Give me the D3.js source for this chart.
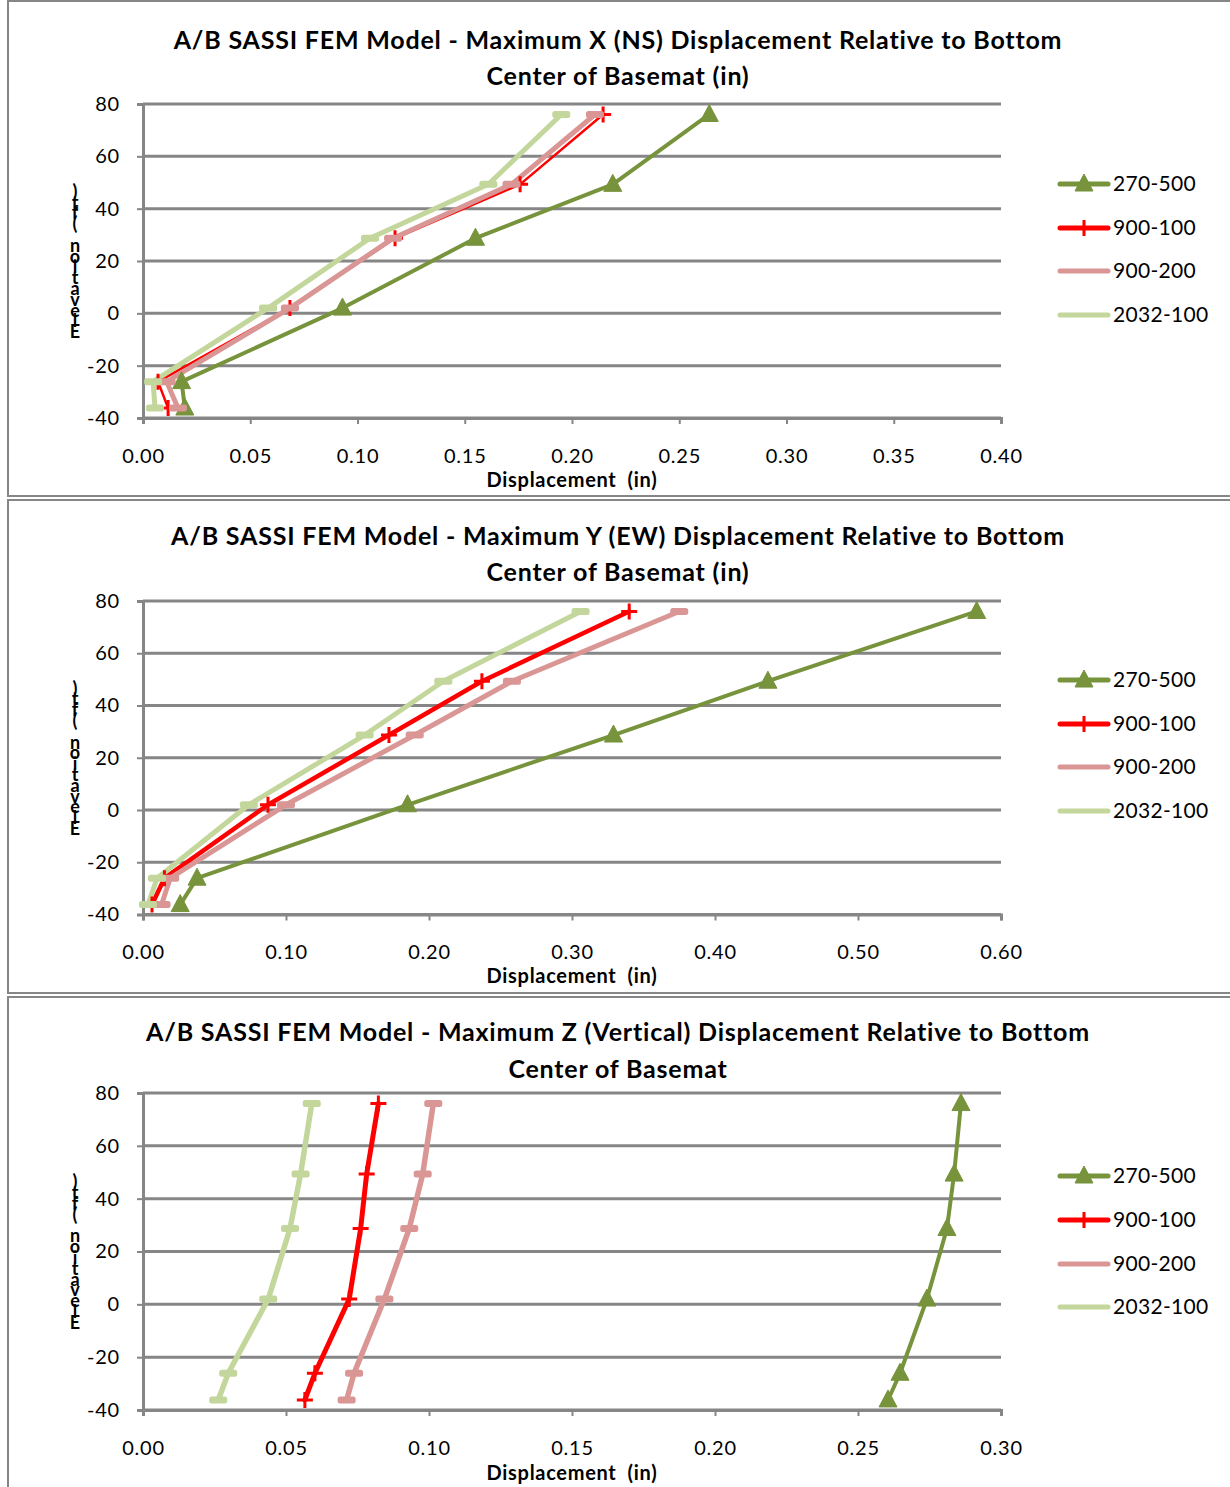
<!DOCTYPE html>
<html>
<head>
<meta charset="utf-8">
<script src="https://cdn.jsdelivr.net/npm/d3@7"></script>
<style>
  html, body { margin: 0; padding: 0; background: #fff; }
  svg { display: block; }
  text { font-family: Lato, "Open Sans", sans-serif; fill: #000; }
</style>
</head>
<body>
<svg id="chart" width="1230" height="1487"></svg>
<script>
// Elevations of the output nodes (ft), shared by all series
const elevations = [-36.2, -26.1, 2.0, 28.7, 49.3, 76.0];

const seriesNames = ["270-500", "900-100", "900-200", "2032-100"];
const seriesColors = ["#77933C", "#FF0000", "#D99694", "#C3D69B"];
const seriesMarkers = ["triangle", "plus", "dash", "dash"];

// X (NS) displacement, in
const nsDisp270 = [0.0195, 0.018, 0.093, 0.155, 0.219, 0.264];
const nsDisp900a = [0.0117, 0.0070, 0.0685, 0.1175, 0.1758, 0.2145];
const nsDisp900b = [0.0163, 0.0110, 0.0685, 0.1166, 0.1718, 0.2107];
const nsDisp2032 = [0.0056, 0.0047, 0.0583, 0.1058, 0.1610, 0.1950];

// Y (EW) displacement, in
const ewDisp270 = [0.026, 0.0378, 0.185, 0.329, 0.437, 0.583];
const ewDisp900a = [0.0063, 0.0150, 0.0874, 0.172, 0.237, 0.340];
const ewDisp900b = [0.0130, 0.0190, 0.100, 0.190, 0.258, 0.375];
const ewDisp2032 = [0.0035, 0.0098, 0.074, 0.155, 0.210, 0.306];

// Z (vertical) displacement, in
const vtDisp270 = [0.2605, 0.2647, 0.2741, 0.2811, 0.2836, 0.2860];
const vtDisp900a = [0.0566, 0.0601, 0.0721, 0.0761, 0.0782, 0.0823];
const vtDisp900b = [0.0712, 0.0738, 0.0844, 0.0931, 0.0978, 0.1015];
const vtDisp2032 = [0.0263, 0.0298, 0.0438, 0.0514, 0.0551, 0.0590];

const yTicks = [-40, -20, 0, 20, 40, 60, 80];
const xTicksNS = [0, 0.05, 0.10, 0.15, 0.20, 0.25, 0.30, 0.35, 0.40];
const xTicksEW = [0, 0.10, 0.20, 0.30, 0.40, 0.50, 0.60];
const xTicksVT = [0, 0.05, 0.10, 0.15, 0.20, 0.25, 0.30];

const titlesNS = ["A/B SASSI FEM Model - Maximum X (NS) Displacement Relative to Bottom", "Center of Basemat (in)"];
const titlesEW = ["A/B SASSI FEM Model - Maximum Y (EW) Displacement Relative to Bottom", "Center of Basemat (in)"];
const titlesVT = ["A/B SASSI FEM Model - Maximum Z (Vertical) Displacement Relative to Bottom", "Center of Basemat"];

const xAxisTitle = "Displacement  (in)";
const yAxisTitle = "Elevation (ft)";

const svg = d3.select("#chart");
const gridColor = "#868686";

const panels = [
  { top: 1, bottom: 496, titles: titlesNS, ticks: xTicksNS,
    data: [nsDisp270, nsDisp900a, nsDisp900b, nsDisp2032],
    yTop: 104, yBottom: 418, titleY: [49, 85], tickY: 463, xTitleY: 487,
    legendY: [184, 228, 271, 315], widths: [4, 2.5, 5, 5] },
  { top: 500, bottom: 993, titles: titlesEW, ticks: xTicksEW,
    data: [ewDisp270, ewDisp900a, ewDisp900b, ewDisp2032],
    yTop: 601, yBottom: 914.5, titleY: [545, 581], tickY: 959, xTitleY: 983,
    legendY: [680, 724, 767, 811], widths: [4, 4.5, 5, 5] },
  { top: 997, bottom: 1492, titles: titlesVT, ticks: xTicksVT,
    data: [vtDisp270, vtDisp900a, vtDisp900b, vtDisp2032],
    yTop: 1093, yBottom: 1410, titleY: [1041, 1078], tickY: 1455, xTitleY: 1480,
    legendY: [1176, 1220, 1264, 1307], widths: [4, 5, 5.5, 5.5] }
];

const plotLeft = 143, plotRight = 1001;

function drawMarker(g, type, color, cx, cy) {
  if (type === "triangle") {
    g.append("path")
      .attr("d", `M${cx},${cy - 10}L${cx + 9},${cy + 7}L${cx - 9},${cy + 7}Z`)
      .attr("fill", color).attr("stroke", color).attr("stroke-width", 1)
      .attr("stroke-linejoin", "round");
  } else if (type === "plus") {
    g.append("path")
      .attr("d", `M${cx - 8},${cy}H${cx + 8}M${cx},${cy - 8}V${cy + 8}`)
      .attr("stroke", color).attr("stroke-width", 3).attr("fill", "none");
  } else {
    g.append("rect")
      .attr("x", cx - 9).attr("y", cy - 3.5).attr("width", 18).attr("height", 7)
      .attr("rx", 2.5).attr("fill", color);
  }
}

panels.forEach(p => {
  const g = svg.append("g");

  // panel frame
  g.append("rect")
    .attr("x", 8).attr("y", p.top).attr("width", 1240).attr("height", p.bottom - p.top)
    .attr("fill", "#fff").attr("stroke", gridColor).attr("stroke-width", 2);

  const maxX = p.ticks[p.ticks.length - 1];
  const x = d3.scaleLinear().domain([0, maxX]).range([plotLeft, plotRight]);
  const y = d3.scaleLinear().domain([-40, 80]).range([p.yBottom, p.yTop]);

  // title
  p.titles.forEach((t, i) => {
    g.append("text").attr("x", 618).attr("y", p.titleY[i])
      .attr("text-anchor", "middle").attr("font-size", 25).attr("font-weight", 700)
      .attr("letter-spacing", 0.8).attr("fill", "#1a1a1a").text(t);
  });

  // horizontal gridlines
  g.append("g").selectAll("line").data(yTicks).join("line")
    .attr("x1", plotLeft).attr("x2", plotRight)
    .attr("y1", d => y(d)).attr("y2", d => y(d))
    .attr("stroke", gridColor).attr("stroke-width", 3);

  // left axis
  const yAxis = g.append("g").attr("transform", `translate(${plotLeft},0)`)
    .call(d3.axisLeft(y).tickValues(yTicks).tickSize(6).tickFormat(d => String(d)));
  yAxis.select(".domain").attr("stroke", gridColor).attr("stroke-width", 3);
  yAxis.selectAll(".tick line").attr("stroke", gridColor).attr("stroke-width", 2);
  yAxis.selectAll(".tick text").attr("font-size", 20).attr("font-family", "Lato").attr("fill", "#000")
    .attr("letter-spacing", 0.8).attr("x", -23);

  // bottom axis
  const xAxis = g.append("g").attr("transform", `translate(0,${p.yBottom})`)
    .call(d3.axisBottom(x).tickValues(p.ticks).tickSize(6).tickFormat(d3.format(".2f")));
  xAxis.select(".domain").attr("stroke", gridColor).attr("stroke-width", 3);
  xAxis.selectAll(".tick line").attr("stroke", gridColor).attr("stroke-width", 2);
  xAxis.selectAll(".tick text").attr("font-size", 20).attr("font-family", "Lato").attr("fill", "#000")
    .attr("letter-spacing", 0.8).attr("dy", null).attr("y", p.tickY - p.yBottom);

  // x-axis title
  g.append("text").attr("x", 572).attr("y", p.xTitleY)
    .attr("text-anchor", "middle").attr("font-size", 20).attr("font-weight", 700)
    .attr("letter-spacing", 0.7).attr("xml:space", "preserve").text(xAxisTitle);

  // y-axis title: characters stacked one above another
  const chars = Array.from(yAxisTitle);
  const yMid = (p.yTop + p.yBottom) / 2;
  const step = 10.8;
  const bottomY = yMid + (chars.length - 1) * step / 2 + 7;
  chars.forEach((c, i) => {
    g.append("text").attr("x", 75).attr("y", bottomY - i * step)
      .attr("text-anchor", "middle").attr("font-size", 18).attr("font-weight", 700)
      .text(c);
  });

  // series lines (all lines first, markers on top)
  const line = d3.line().x(d => x(d.v)).y(d => y(d.e));
  const seriesData = p.data.map(arr => arr.map((v, i) => ({ v, e: elevations[i] })));
  seriesData.forEach((pts, s) => {
    g.append("path").datum(pts).attr("d", line)
      .attr("fill", "none").attr("stroke", seriesColors[s])
      .attr("stroke-width", p.widths[s])
      .attr("stroke-linejoin", "round").attr("stroke-linecap", "round");
  });
  seriesData.forEach((pts, s) => {
    pts.forEach(d => drawMarker(g, seriesMarkers[s], seriesColors[s], x(d.v), y(d.e)));
  });

  // legend
  seriesNames.forEach((name, s) => {
    const ly = p.legendY[s];
    g.append("line").attr("x1", 1060).attr("x2", 1108).attr("y1", ly).attr("y2", ly)
      .attr("stroke", seriesColors[s]).attr("stroke-width", 5).attr("stroke-linecap", "round");
    if (seriesMarkers[s] !== "dash") drawMarker(g, seriesMarkers[s], seriesColors[s], 1084, ly);
    g.append("text").attr("x", 1113).attr("y", ly).attr("dy", "0.35em")
      .attr("font-size", 21).attr("letter-spacing", 0.3).text(name);
  });
});
</script>
</body>
</html>
